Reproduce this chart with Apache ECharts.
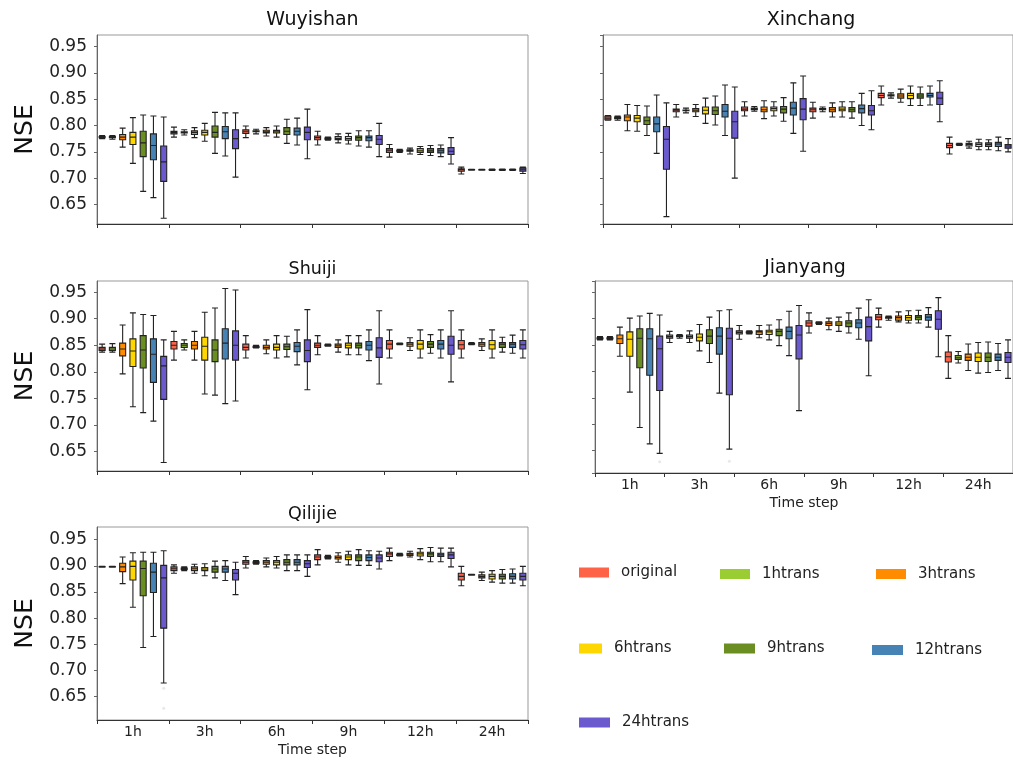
<!DOCTYPE html>
<html>
<head>
<meta charset="utf-8">
<script src="https://cdn.jsdelivr.net/npm/echarts@6/dist/echarts.min.js"></script>
<style>
html,body{margin:0;padding:0;background:#fff;}
#chart{width:1013px;height:760px;}
</style>
</head>
<body>
<div id="chart"></div>
<script>
// ---- data ----
const timeSteps = ['1h', '3h', '6h', '9h', '12h', '24h'];
const seriesNames = ['original', '1htrans', '3htrans', '6htrans', '9htrans', '12htrans', '24htrans'];
const seriesColors = ['#FF6347', '#9ACD32', '#FF8C00', '#FFD700', '#6B8E23', '#4682B4', '#6A5ACD'];
const stationNames = ['Wuyishan', 'Xinchang', 'Shuiji', 'Jianyang', 'Qilijie'];

// each row = one time step; 7 boxes [min, Q1, median, Q3, max] in seriesNames order
const wuyishan = [
  [[0.775,0.777,0.778,0.779,0.781],[0.774,0.777,0.778,0.779,0.781],[0.759,0.773,0.778,0.783,0.795],[0.728,0.764,0.778,0.787,0.815],[0.675,0.741,0.767,0.789,0.820],[0.663,0.735,0.762,0.784,0.818],[0.624,0.694,0.731,0.761,0.816]],
  [[0.778,0.784,0.787,0.789,0.797],[0.782,0.786,0.787,0.788,0.792],[0.777,0.783,0.787,0.790,0.796],[0.770,0.782,0.787,0.791,0.804],[0.747,0.778,0.787,0.799,0.825],[0.742,0.775,0.788,0.798,0.824],[0.702,0.756,0.775,0.792,0.824]],
  [[0.777,0.785,0.789,0.792,0.799],[0.784,0.788,0.789,0.790,0.793],[0.780,0.786,0.788,0.791,0.796],[0.778,0.786,0.789,0.791,0.799],[0.766,0.783,0.789,0.796,0.812],[0.763,0.782,0.789,0.795,0.814],[0.737,0.773,0.787,0.797,0.831]],
  [[0.763,0.773,0.777,0.780,0.789],[0.772,0.774,0.775,0.776,0.778],[0.767,0.773,0.775,0.779,0.784],[0.765,0.772,0.775,0.779,0.785],[0.761,0.772,0.777,0.780,0.790],[0.759,0.771,0.777,0.780,0.790],[0.741,0.764,0.774,0.781,0.804]],
  [[0.740,0.749,0.753,0.756,0.764],[0.749,0.751,0.752,0.753,0.755],[0.746,0.751,0.752,0.754,0.757],[0.745,0.749,0.752,0.756,0.760],[0.743,0.749,0.752,0.756,0.762],[0.741,0.748,0.752,0.756,0.763],[0.727,0.745,0.751,0.758,0.777]],
  [[0.708,0.713,0.716,0.718,0.721],[0.715,0.7155,0.716,0.7165,0.717],[0.715,0.7155,0.716,0.7165,0.717],[0.7145,0.7155,0.716,0.7165,0.7175],[0.7145,0.7155,0.716,0.7165,0.7175],[0.7145,0.7155,0.716,0.7165,0.7175],[0.709,0.713,0.716,0.719,0.721]]
];
const xinchang = [
  [[0.810,0.811,0.814,0.8175,0.819],[0.810,0.813,0.814,0.816,0.818],[0.790,0.809,0.816,0.820,0.840],[0.789,0.807,0.814,0.819,0.838],[0.781,0.802,0.809,0.816,0.837],[0.747,0.788,0.803,0.816,0.858],[0.627,0.717,0.774,0.798,0.843]],
  [[0.816,0.826,0.829,0.831,0.840],[0.824,0.828,0.829,0.8295,0.833],[0.817,0.826,0.829,0.832,0.840],[0.804,0.822,0.829,0.835,0.852],[0.801,0.821,0.828,0.835,0.856],[0.781,0.816,0.827,0.840,0.877],[0.700,0.776,0.807,0.827,0.873]],
  [[0.818,0.828,0.831,0.835,0.845],[0.827,0.830,0.831,0.833,0.836],[0.813,0.826,0.830,0.835,0.847],[0.818,0.828,0.832,0.835,0.845],[0.808,0.824,0.831,0.836,0.853],[0.785,0.820,0.833,0.844,0.881],[0.751,0.811,0.831,0.851,0.894]],
  [[0.814,0.826,0.830,0.833,0.844],[0.826,0.830,0.831,0.832,0.835],[0.816,0.826,0.830,0.834,0.843],[0.816,0.828,0.831,0.835,0.845],[0.814,0.826,0.830,0.834,0.845],[0.800,0.824,0.832,0.839,0.861],[0.792,0.820,0.828,0.838,0.866]],
  [[0.839,0.853,0.857,0.861,0.875],[0.852,0.856,0.857,0.8585,0.862],[0.844,0.852,0.856,0.860,0.869],[0.838,0.851,0.857,0.861,0.875],[0.838,0.852,0.856,0.860,0.873],[0.839,0.854,0.857,0.861,0.875],[0.807,0.840,0.852,0.863,0.885]],
  [[0.746,0.758,0.762,0.766,0.778],[0.762,0.7636,0.764,0.765,0.766],[0.757,0.761,0.764,0.766,0.770],[0.754,0.760,0.764,0.767,0.774],[0.754,0.760,0.764,0.767,0.773],[0.752,0.760,0.765,0.768,0.778],[0.750,0.757,0.761,0.764,0.775]]
];
const shuiji = [
  [[0.837,0.840,0.843,0.846,0.852],[0.837,0.840,0.843,0.846,0.853],[0.796,0.830,0.843,0.854,0.888],[0.734,0.810,0.839,0.862,0.911],[0.723,0.807,0.841,0.868,0.908],[0.707,0.780,0.833,0.862,0.906],[0.629,0.748,0.811,0.829,0.860]],
  [[0.822,0.843,0.850,0.857,0.876],[0.841,0.846,0.850,0.853,0.860],[0.822,0.843,0.850,0.857,0.876],[0.758,0.822,0.848,0.865,0.912],[0.756,0.819,0.841,0.860,0.920],[0.740,0.824,0.854,0.881,0.957],[0.745,0.822,0.850,0.877,0.954]],
  [[0.826,0.841,0.846,0.852,0.868],[0.845,0.846,0.847,0.848,0.850],[0.834,0.843,0.846,0.850,0.860],[0.826,0.841,0.846,0.852,0.868],[0.828,0.842,0.847,0.852,0.867],[0.813,0.838,0.848,0.855,0.879],[0.766,0.819,0.840,0.860,0.917]],
  [[0.832,0.846,0.850,0.854,0.868],[0.848,0.849,0.850,0.851,0.852],[0.837,0.846,0.849,0.852,0.860],[0.832,0.845,0.850,0.854,0.868],[0.832,0.845,0.850,0.854,0.868],[0.821,0.841,0.850,0.857,0.879],[0.777,0.827,0.845,0.864,0.915]],
  [[0.826,0.843,0.852,0.859,0.879],[0.851,0.852,0.852,0.853,0.854],[0.840,0.848,0.852,0.855,0.864],[0.826,0.843,0.852,0.859,0.879],[0.835,0.846,0.852,0.857,0.870],[0.826,0.843,0.852,0.859,0.879],[0.781,0.833,0.850,0.867,0.915]],
  [[0.826,0.843,0.851,0.859,0.879],[0.851,0.852,0.853,0.853,0.855],[0.840,0.848,0.852,0.855,0.862],[0.826,0.843,0.851,0.859,0.879],[0.837,0.846,0.852,0.855,0.865],[0.835,0.846,0.852,0.855,0.869],[0.826,0.843,0.851,0.859,0.879]]
];
const jianyang = [
  [[0.860,0.8615,0.863,0.864,0.866],[0.860,0.8615,0.863,0.864,0.866],[0.829,0.853,0.862,0.869,0.884],[0.761,0.829,0.861,0.875,0.901],[0.694,0.807,0.863,0.881,0.905],[0.663,0.793,0.862,0.881,0.910],[0.645,0.764,0.843,0.867,0.907]],
  [[0.855,0.863,0.866,0.869,0.876],[0.863,0.866,0.867,0.868,0.870],[0.855,0.863,0.866,0.869,0.877],[0.839,0.858,0.865,0.871,0.889],[0.817,0.853,0.867,0.879,0.903],[0.759,0.833,0.867,0.883,0.915],[0.653,0.756,0.863,0.882,0.917]],
  [[0.861,0.871,0.874,0.877,0.887],[0.871,0.873,0.874,0.875,0.877],[0.864,0.870,0.875,0.877,0.887],[0.860,0.870,0.875,0.878,0.888],[0.849,0.868,0.876,0.880,0.898],[0.830,0.862,0.876,0.884,0.914],[0.726,0.824,0.869,0.887,0.925]],
  [[0.873,0.886,0.892,0.896,0.911],[0.889,0.891,0.892,0.893,0.894],[0.879,0.887,0.891,0.894,0.901],[0.876,0.887,0.890,0.894,0.903],[0.873,0.885,0.892,0.896,0.911],[0.861,0.883,0.892,0.898,0.920],[0.792,0.858,0.885,0.903,0.936]],
  [[0.884,0.898,0.903,0.908,0.920],[0.897,0.901,0.902,0.903,0.905],[0.894,0.897,0.902,0.905,0.913],[0.892,0.897,0.902,0.906,0.915],[0.892,0.898,0.903,0.906,0.916],[0.884,0.897,0.903,0.908,0.921],[0.828,0.880,0.899,0.915,0.940]],
  [[0.787,0.818,0.828,0.837,0.868],[0.816,0.823,0.826,0.830,0.838],[0.802,0.821,0.827,0.833,0.852],[0.797,0.819,0.827,0.835,0.855],[0.798,0.819,0.827,0.835,0.856],[0.802,0.821,0.827,0.833,0.853],[0.787,0.817,0.827,0.836,0.860]]
];
const qilijie = [
  [[0.8975,0.898,0.898,0.8985,0.899],[0.8975,0.898,0.898,0.8985,0.899],[0.866,0.889,0.898,0.905,0.917],[0.821,0.873,0.899,0.909,0.925],[0.744,0.843,0.895,0.909,0.926],[0.765,0.849,0.888,0.905,0.926],[0.676,0.781,0.877,0.901,0.929]],
  [[0.886,0.891,0.8945,0.898,0.902],[0.891,0.893,0.8945,0.896,0.898],[0.886,0.891,0.8945,0.898,0.903],[0.881,0.891,0.894,0.897,0.904],[0.877,0.888,0.894,0.899,0.909],[0.872,0.888,0.894,0.899,0.910],[0.845,0.873,0.886,0.893,0.907]],
  [[0.896,0.903,0.907,0.910,0.918],[0.903,0.905,0.907,0.908,0.910],[0.898,0.903,0.907,0.910,0.915],[0.896,0.902,0.907,0.910,0.918],[0.891,0.902,0.907,0.912,0.921],[0.891,0.902,0.907,0.912,0.921],[0.880,0.897,0.904,0.910,0.921]],
  [[0.902,0.912,0.917,0.921,0.931],[0.913,0.915,0.917,0.918,0.920],[0.907,0.913,0.916,0.919,0.925],[0.902,0.912,0.917,0.921,0.928],[0.901,0.910,0.917,0.921,0.931],[0.901,0.910,0.916,0.921,0.929],[0.894,0.908,0.915,0.921,0.928]],
  [[0.910,0.918,0.923,0.926,0.934],[0.919,0.920,0.921,0.922,0.924],[0.917,0.920,0.923,0.924,0.928],[0.912,0.919,0.923,0.926,0.933],[0.908,0.918,0.923,0.926,0.935],[0.908,0.918,0.921,0.924,0.934],[0.898,0.914,0.921,0.926,0.934]],
  [[0.862,0.873,0.880,0.886,0.899],[0.882,0.8825,0.883,0.8835,0.884],[0.872,0.877,0.880,0.883,0.888],[0.869,0.875,0.880,0.884,0.891],[0.867,0.875,0.880,0.884,0.893],[0.867,0.875,0.880,0.885,0.894],[0.862,0.873,0.880,0.886,0.899]]
];
// outliers: [timeStepIndex, seriesIndex, value]
const jianyangFliers = [[0, 6, 0.629], [1, 6, 0.630]];
const qilijieFliers = [[0, 6, 0.666], [0, 6, 0.628]];

// ---- layout (positions/styles) ----
const FONT = 'DejaVu Sans';
const layout = [
  {grid:{left:97, top:35, width:431, height:189}, y:[0.613,0.9718], showY:true, showX:false, tx:312.5, tt:11, ts:19},
  {grid:{left:603, top:35, width:417, height:189}, y:[0.613,0.9718], showY:false, showX:false, tx:811, tt:11, ts:19},
  {grid:{left:97, top:281, width:431, height:190}, y:[0.613,0.971], showY:true, showX:false, tx:312.5, tt:260, ts:17.5},
  {grid:{left:595, top:281, width:424, height:192}, y:[0.6078,0.9714], showY:false, showX:true, tx:805, tt:259, ts:19},
  {grid:{left:97, top:527, width:431, height:193}, y:[0.6054,0.9743], showY:true, showX:true, tx:312.5, tt:505, ts:17.5}
];
const stationData = [wuyishan, xinchang, shuiji, jianyang, qilijie];
const stationFliers = [[], [], [], jianyangFliers, qilijieFliers];

const slots = [];
timeSteps.forEach(t => seriesNames.forEach(s => slots.push(t + ' ' + s)));

const grids = [], xAxes = [], yAxes = [], titles = [], series = [];
layout.forEach((L, p) => {
  grids.push(Object.assign({show:true, borderColor:'#999', borderWidth:1, backgroundColor:'#fff', containLabel:false}, L.grid));
  titles.push({text: stationNames[p], left: L.tx, top: L.tt, textAlign:'center', padding:0,
    textStyle:{fontFamily:FONT, fontSize:L.ts, fontWeight:'normal', color:'#111'}});
  xAxes.push({type:'category', gridIndex:p, data:timeSteps, position:'bottom',
    axisLine:{show:true, lineStyle:{color:'#333', width:1}},
    axisTick:{show:true, length:4, interval:0, lineStyle:{color:'#333'}},
    axisLabel:{show:L.showX, interval:0, margin:5, fontFamily:FONT, fontSize:14, color:'#222'},
    splitLine:{show:false},
    name: L.showX ? 'Time step' : '', nameLocation:'middle', nameGap:23,
    nameTextStyle:{fontFamily:FONT, fontSize:14, color:'#222'}});
  xAxes.push({type:'category', gridIndex:p, data:slots, show:false});
  yAxes.push({type:'value', gridIndex:p, min:L.y[0], max:L.y[1], splitNumber:7,
    axisLine:{show:true, lineStyle:{color:'#666'}},
    axisTick:{show:true, length:3, lineStyle:{color:'#666'}},
    axisLabel:{show:L.showY, margin:10, fontFamily:FONT, fontSize:17, color:'#222',
      showMinLabel:false, showMaxLabel:false,
      formatter: v => Math.abs(v*20 - Math.round(v*20)) < 1e-6 ? v.toFixed(2) : ''},
    splitLine:{show:false},
    name: L.showY ? 'NSE' : '', nameLocation:'middle', nameRotate:90, nameGap:59,
    nameTextStyle:{fontFamily:FONT, fontSize:25, color:'#111'}});
  const boxes = [];
  stationData[p].forEach((row, gi) => row.forEach((b, si) => {
    boxes.push({value:b, itemStyle:{color:seriesColors[si]}});
  }));
  series.push({type:'boxplot', xAxisIndex:2*p+1, yAxisIndex:p, data:boxes, boxWidth:[6,6],
    itemStyle:{borderColor:'#222', borderWidth:1.1}, silent:true, z:3});
  if (stationFliers[p].length) {
    series.push({type:'scatter', xAxisIndex:2*p+1, yAxisIndex:p, symbol:'circle', symbolSize:3,
      itemStyle:{color:'#e2e2e2'}, silent:true, z:2,
      data: stationFliers[p].map(f => [f[0]*7 + f[1], f[2]])});
  }
});
// legend-only series
seriesNames.forEach((n, i) => series.push({type:'bar', name:n, xAxisIndex:1, yAxisIndex:0, data:[], itemStyle:{color:seriesColors[i]}}));

const legendPos = [
  {left:579, top:565, w:30}, {left:720, top:566.5, w:30}, {left:876, top:566.5, w:30},
  {left:579, top:641, w:23}, {left:724, top:641, w:31}, {left:872, top:642.5, w:31},
  {left:579, top:715, w:31}
];
const legends = seriesNames.map((n, i) => ({
  data:[n], left:legendPos[i].left, top:legendPos[i].top, padding:0, itemGap:0,
  itemWidth:legendPos[i].w, itemHeight:10, icon:'rect', selectedMode:false,
  textStyle:{fontFamily:FONT, fontSize:15, color:'#222', padding:[0,0,0,7]}
}));

const chart = echarts.init(document.getElementById('chart'), null, {renderer:'canvas'});
chart.setOption({
  animation:false,
  backgroundColor:'#fff',
  textStyle:{fontFamily:FONT},
  title:titles, grid:grids, xAxis:xAxes, yAxis:yAxes, legend:legends, series:series
});
</script>
</body>
</html>
